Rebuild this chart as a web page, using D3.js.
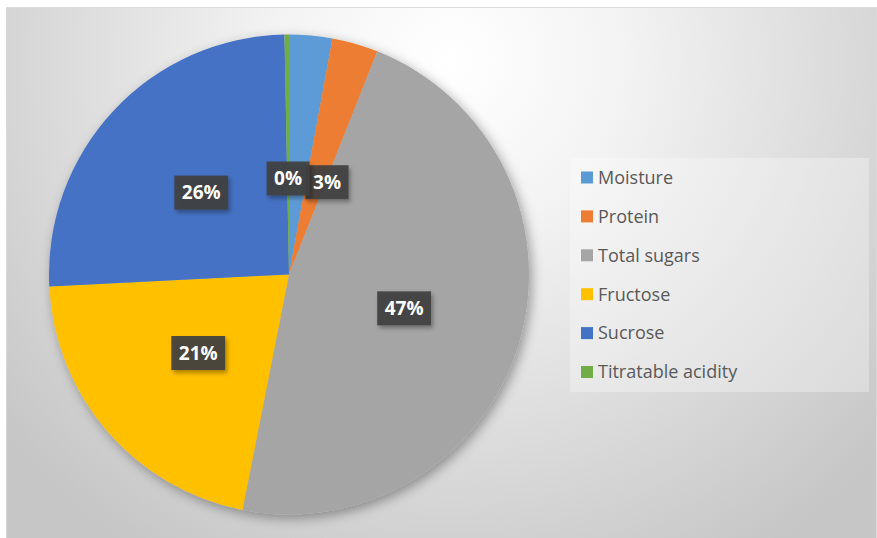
<!DOCTYPE html>
<html lang="en">
<head>
    <meta charset="UTF-8">
    <title>Composition pie</title>
    <script src="https://d3js.org/d3.v7.min.js"></script>
    <style>
        body { margin: 0; background: #fff; }
        svg { display: block; }
        .legend-text { font-family: "Open Sans", sans-serif; font-size: 18px; fill: #595959; }
        .data-label { font-family: "Open Sans", sans-serif; font-size: 19px; font-weight: bold; fill: #fff; }
    </style>
</head>
<body>
    <svg id="chart" width="877" height="538"></svg>
    <script>
        // data
        const categories = ["Moisture", "Protein", "Total sugars", "Fructose", "Sucrose", "Titratable acidity"];
        const values = [2.9, 3.1, 47.1, 21.1, 25.5, 0.3];
        const colors = ["#5B9BD5", "#ED7D31", "#A5A5A5", "#FFC000", "#4472C4", "#70AD47"];

        const svg = d3.select("#chart"),
              width = +svg.attr("width"),
              height = +svg.attr("height");

        const defs = svg.append("defs");

        // background gradient, light near the top middle
        const bg = defs.append("radialGradient")
            .attr("id", "bg")
            .attr("gradientUnits", "userSpaceOnUse")
            .attr("cx", 450).attr("cy", 60).attr("r", 580);
        bg.append("stop").attr("offset", 0).attr("stop-color", "#ffffff");
        bg.append("stop").attr("offset", 0.3).attr("stop-color", "#f3f3f3");
        bg.append("stop").attr("offset", 0.75).attr("stop-color", "#d6d6d6");
        bg.append("stop").attr("offset", 1).attr("stop-color", "#c6c6c6");

        const pieShadow = defs.append("filter").attr("id", "pieShadow")
            .attr("x", "-20%").attr("y", "-20%").attr("width", "140%").attr("height", "140%");
        pieShadow.append("feDropShadow")
            .attr("dx", 3).attr("dy", 4).attr("stdDeviation", 6)
            .attr("flood-color", "#000").attr("flood-opacity", 0.35);

        const boxShadow = defs.append("filter").attr("id", "boxShadow")
            .attr("x", "-30%").attr("y", "-30%").attr("width", "160%").attr("height", "160%");
        boxShadow.append("feDropShadow")
            .attr("dx", 2).attr("dy", 3).attr("stdDeviation", 2)
            .attr("flood-color", "#000").attr("flood-opacity", 0.35);

        // chart area
        svg.append("rect")
            .attr("x", 6.5).attr("y", 7.5)
            .attr("width", width - 7).attr("height", height - 7)
            .attr("fill", "url(#bg)")
            .attr("stroke", "#d9d9d9");

        const cx = 289, cy = 274.5, radius = 240;
        const g = svg.append("g").attr("transform", `translate(${cx},${cy})`);

        const total = d3.sum(values);
        const pie = d3.pie().sort(null).value(d => d.value);
        const arcs = pie(categories.map((c, i) => ({ name: c, value: values[i], color: colors[i] })));

        const arc = d3.arc().innerRadius(0).outerRadius(radius);

        g.append("g")
            .attr("filter", "url(#pieShadow)")
            .selectAll("path")
            .data(arcs)
            .join("path")
            .attr("d", arc)
            .attr("fill", d => d.data.color);

        // data labels: big slices at half radius, thin ones pulled closer in
        const bigArc = d3.arc().innerRadius(0).outerRadius(radius);
        const smallArc = d3.arc().innerRadius(0).outerRadius(radius * 0.8);
        const fmt = v => Math.round(v / total * 100) + "%";

        const labelG = g.append("g");
        const labels = arcs.map(d => {
            const share = d.data.value / total;
            const pos = (share < 0.05 ? smallArc : bigArc).centroid(d);
            return { d, text: fmt(d.data.value), x: pos[0], y: pos[1], hidden: false };
        });

        // measure text widths
        const probe = labelG.append("text").attr("class", "data-label");
        labels.forEach(l => {
            probe.text(l.text);
            l.w = probe.node().getComputedTextLength() + 15;
            l.h = 34;
        });
        probe.remove();

        // simple overlap handling: later slices keep their spot, earlier ones move or hide
        const placed = [];
        for (let i = labels.length - 1; i >= 0; i--) {
            const l = labels[i];
            for (const p of placed) {
                const ox = Math.min(l.x + l.w / 2, p.x + p.w / 2) - Math.max(l.x - l.w / 2, p.x - p.w / 2);
                const oy = Math.min(l.y + l.h / 2, p.y + p.h / 2) - Math.max(l.y - l.h / 2, p.y - p.h / 2);
                if (ox > 0 && oy > 0) {
                    if (ox > l.w / 2) { l.hidden = true; break; }
                    l.x = l.x >= p.x ? p.x + p.w / 2 + l.w / 2 - 4 : p.x - p.w / 2 - l.w / 2 + 4;
                }
            }
            if (!l.hidden) placed.push(l);
        }

        const lab = labelG.selectAll("g")
            .data(labels.filter(l => !l.hidden))
            .join("g")
            .attr("transform", l => `translate(${l.x},${l.y})`);

        lab.append("rect")
            .attr("x", l => -l.w / 2).attr("y", l => -l.h / 2)
            .attr("width", l => l.w).attr("height", l => l.h)
            .attr("fill", "#404040")
            .attr("fill-opacity", 0.92)
            .attr("filter", "url(#boxShadow)");

        lab.append("text")
            .attr("class", "data-label")
            .attr("text-anchor", "middle")
            .attr("dy", "0.36em")
            .text(l => l.text);

        // legend
        const legendBox = { x: 570, y: 158, w: 299, h: 234 };
        svg.append("rect")
            .attr("x", legendBox.x).attr("y", legendBox.y)
            .attr("width", legendBox.w).attr("height", legendBox.h)
            .attr("fill", "#ffffff").attr("fill-opacity", 0.3);

        const rowY = d3.scalePoint().domain(categories).range([177.5, 372]);

        const item = svg.append("g").selectAll("g")
            .data(categories)
            .join("g")
            .attr("transform", d => `translate(581,${rowY(d)})`);

        item.append("rect")
            .attr("x", 0).attr("y", -6)
            .attr("width", 12).attr("height", 12)
            .attr("fill", (d, i) => colors[i]);

        item.append("text")
            .attr("class", "legend-text")
            .attr("x", 17)
            .attr("dy", "0.35em")
            .text(d => d);
    </script>
</body>
</html>
